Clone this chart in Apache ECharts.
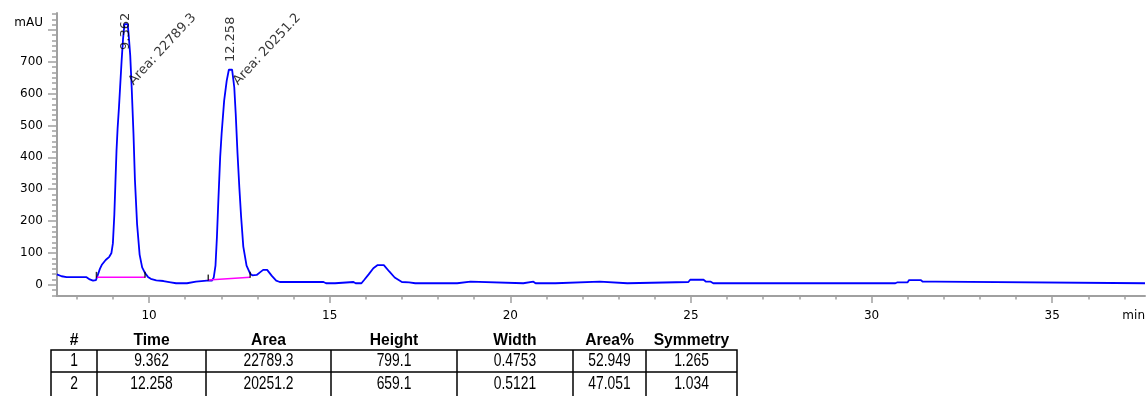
<!DOCTYPE html>
<html><head><meta charset="utf-8">
<script src="https://cdn.jsdelivr.net/npm/echarts@6/dist/echarts.min.js"></script>
<style>html,body{margin:0;padding:0;background:#fff}#c{width:1148px;height:396px}</style>
</head><body><div id="c"></div>
<script>
// ---- DATA ----
const traceTime = [7.45,7.58,7.72,8.27,8.36,8.45,8.53,8.58,8.64,8.70,8.80,8.90,8.96,9.00,9.04,9.07,9.10,9.13,9.17,9.20,9.24,9.28,9.32,9.41,9.44,9.48,9.52,9.57,9.61,9.67,9.74,9.81,9.89,9.97,10.05,10.2,10.4,10.6,10.75,11.05,11.3,11.6,11.74,11.79,11.84,11.88,11.92,11.97,12.01,12.08,12.15,12.21,12.30,12.36,12.40,12.45,12.50,12.55,12.61,12.70,12.80,12.86,12.98,13.08,13.16,13.27,13.40,13.52,13.62,14.83,14.9,15.15,15.2,15.66,15.72,15.88,15.96,16.08,16.21,16.33,16.50,16.65,16.80,17.0,17.2,17.37,18.53,18.56,18.9,18.95,20.36,20.4,20.64,20.7,21.25,21.3,22.48,22.53,23.24,23.29,24.93,24.98,25.35,25.42,25.55,25.62,30.66,30.72,31.0,31.04,31.36,31.42,31.77,31.82,37.57];
const traceSignal = [33,27,24,24,17,13,15,30,50,64,78,88,100,130,220,320,420,490,560,620,700,770,818,818,780,720,620,475,330,190,95,55,37,25,19,14,12,8,5,5,10,13,13,22,60,150,266,401,475,578,640,675,675,620,537,412,306,213,120,60,35,30,31,40,47,47,28,13,9,9,5,5,9,9,5,5,16,33,52,62,62,42,23,9,8,5,5,10,10,5,5,10,10,5,5,10,10,5,5,9,9,16,16,10,10,5,5,8,8,15,15,10,10,5,5];

const peakNumbers = [1, 2];
const peakTimes = [9.362, 12.258];
const peakAreas = [22789.3, 20251.2];
const peakHeights = [799.1, 659.1];
const peakWidths = [0.4753, 0.5121];
const peakAreaPct = [52.949, 47.051];
const peakSymmetry = [1.265, 1.034];

const baselineStartTime = [8.545, 11.64];
const baselineStartValue = [23.5, 15];
const baselineEndTime = [9.89, 12.80];
const baselineEndValue = [23.5, 23.5];

const xTickLabels = [10, 15, 20, 25, 30, 35];
const yTickValues = [0, 100, 200, 300, 400, 500, 600, 700, 800];
const yTickLabels = [0, 100, 200, 300, 400, 500, 600, 700];
const tableHeaders = ['#', 'Time', 'Area', 'Height', 'Width', 'Area%', 'Symmetry'];

// ---- LAYOUT / STYLE ----
const X_MIN = 7.453, X_MAX = 37.57, Y_MIN = -35, Y_MAX = 853;
const AXIS_GRAY = '#a0a0a0';
const LABEL_FONT = 'DejaVu Sans';
const timeLabelAnchor = [737, 699];   // where the vertical RT label starts (mAU)
const areaLabelAnchor = 633;          // where the slanted area label starts (mAU)
const areaLabelShift = 0.14;          // min to the right of RT

const xMinor = [];
for (let m = 8; m <= 37; m++) if (m % 5 !== 0) xMinor.push(m);
const yMinor = [];
for (let k = -2; k <= 51; k++) if (k % 6 !== 0) yMinor.push(+(k * 100 / 6).toFixed(3));

const trace = traceTime.map((t, i) => [t, traceSignal[i]]);

const annotationData = [];
peakTimes.forEach((t, i) => {
  annotationData.push({
    value: [t, timeLabelAnchor[i]],
    label: { formatter: t.toFixed(3), rotate: 90 }
  });
  annotationData.push({
    value: [t + areaLabelShift, areaLabelAnchor],
    label: { formatter: 'Area: ' + peakAreas[i].toFixed(1), rotate: 47 }
  });
});

const baselineSeries = peakTimes.map((t, i) => ({
  type: 'line', xAxisIndex: 0, yAxisIndex: 0, symbol: 'none', z: 4, silent: true,
  lineStyle: { color: '#ff00ff', width: 1.5 },
  data: [[baselineStartTime[i], baselineStartValue[i]], [baselineEndTime[i], baselineEndValue[i]]]
}));
const markData = [];
peakTimes.forEach((t, i) => {
  markData.push([baselineStartTime[i], baselineStartValue[i]]);
  markData.push([baselineEndTime[i], baselineEndValue[i]]);
});

// ---- TABLE (graphic) ----
const colEdges = [51, 97, 206, 331, 457, 573, 646, 737];
const headerY = 340, rowY = [361.5, 384.5], tableTop = 350, rowLine = 372, tableBottom = 420;
const graphics = [];
graphics.push({ type: 'rect', shape: { x: colEdges[0], y: tableTop, width: colEdges[7] - colEdges[0], height: tableBottom - tableTop },
  style: { fill: 'none', stroke: '#000', lineWidth: 1.5 } });
graphics.push({ type: 'line', shape: { x1: colEdges[0], y1: rowLine, x2: colEdges[7], y2: rowLine }, style: { stroke: '#000', lineWidth: 1.5 } });
for (let c = 1; c < colEdges.length - 1; c++) {
  graphics.push({ type: 'line', shape: { x1: colEdges[c], y1: tableTop, x2: colEdges[c], y2: tableBottom }, style: { stroke: '#000', lineWidth: 1.5 } });
}
const colCenter = c => (colEdges[c] + colEdges[c + 1]) / 2;
tableHeaders.forEach((h, c) => {
  graphics.push({ type: 'text', x: colCenter(c), y: headerY, scaleX: 0.92,
    style: { text: h, fontSize: 17, fontWeight: 'bold', fontFamily: 'Liberation Sans', fill: '#000', align: 'center', verticalAlign: 'middle' } });
});
peakTimes.forEach((t, r) => {
  const cells = [String(peakNumbers[r]), t.toFixed(3), peakAreas[r].toFixed(1), peakHeights[r].toFixed(1),
    peakWidths[r].toFixed(4), peakAreaPct[r].toFixed(3), peakSymmetry[r].toFixed(3)];
  cells.forEach((s, c) => {
    graphics.push({ type: 'text', x: colCenter(c), y: rowY[r], scaleX: 0.77,
      style: { text: s, fontSize: 18, fontFamily: 'Liberation Sans', fill: '#000', align: 'center', verticalAlign: 'middle' } });
  });
});

const option = {
  animation: false,
  backgroundColor: '#fff',
  grid: { left: 57, right: 3, top: 13, bottom: 100, containLabel: false, outerBoundsMode: 'none' },
  xAxis: [
    { type: 'value', min: X_MIN, max: X_MAX, position: 'bottom',
      axisLine: { onZero: false, lineStyle: { color: AXIS_GRAY, width: 2 } },
      axisTick: { show: true, customValues: xTickLabels, length: 7, lineStyle: { color: AXIS_GRAY, width: 1.5 } },
      axisLabel: { customValues: xTickLabels, margin: 14, color: '#000', fontFamily: LABEL_FONT, fontSize: 12 },
      splitLine: { show: false },
      name: 'min', nameLocation: 'end', nameGap: 0,
      nameTextStyle: { color: '#000', fontFamily: LABEL_FONT, fontSize: 12, align: 'right', verticalAlign: 'top', padding: [14, 0, 0, 0] } },
    { type: 'value', min: X_MIN, max: X_MAX, position: 'bottom',
      axisLine: { show: false, onZero: false },
      axisTick: { show: true, customValues: xMinor, length: 3.5, lineStyle: { color: AXIS_GRAY, width: 1.5 } },
      axisLabel: { show: false }, splitLine: { show: false } }
  ],
  yAxis: [
    { type: 'value', min: Y_MIN, max: Y_MAX, position: 'left',
      axisLine: { show: true, onZero: false, lineStyle: { color: AXIS_GRAY, width: 2 } },
      axisTick: { show: true, customValues: yTickValues, length: 9, lineStyle: { color: AXIS_GRAY, width: 1.5 } },
      axisLabel: { customValues: yTickLabels, margin: 14, color: '#000', fontFamily: LABEL_FONT, fontSize: 12 },
      splitLine: { show: false },
      name: 'mAU', nameLocation: 'end', nameGap: -10,
      nameTextStyle: { color: '#000', fontFamily: LABEL_FONT, fontSize: 12, align: 'right', verticalAlign: 'middle', padding: [0, 14, 0, 0] } },
    { type: 'value', min: Y_MIN, max: Y_MAX, position: 'left',
      axisLine: { show: false, onZero: false },
      axisTick: { show: true, customValues: yMinor, length: 5, lineStyle: { color: AXIS_GRAY, width: 1.5 } },
      axisLabel: { show: false }, splitLine: { show: false } }
  ],
  series: [
    { type: 'line', xAxisIndex: 0, yAxisIndex: 0, symbol: 'none', z: 3, silent: true,
      lineStyle: { color: '#0000ff', width: 1.8 }, data: trace },
    ...baselineSeries,
    { type: 'scatter', xAxisIndex: 0, yAxisIndex: 0, symbol: 'rect', symbolSize: [1.5, 6], symbolOffset: [0, -2.5], z: 5, silent: true,
      itemStyle: { color: '#000' }, data: markData },
    { type: 'scatter', xAxisIndex: 0, yAxisIndex: 0, symbol: 'circle', symbolSize: 1, z: 6, silent: true,
      itemStyle: { color: 'rgba(0,0,0,0)' },
      label: { show: true, position: [0.5, 0.5], align: 'left', verticalAlign: 'middle', color: '#000',
        fontFamily: LABEL_FONT, fontSize: 13 },
      labelLayout: { hideOverlap: false },
      data: annotationData }
  ],
  graphic: graphics
};
const chart = echarts.init(document.getElementById('c'), null, { renderer: 'canvas' });
chart.setOption(option);
</script>
</body></html>
